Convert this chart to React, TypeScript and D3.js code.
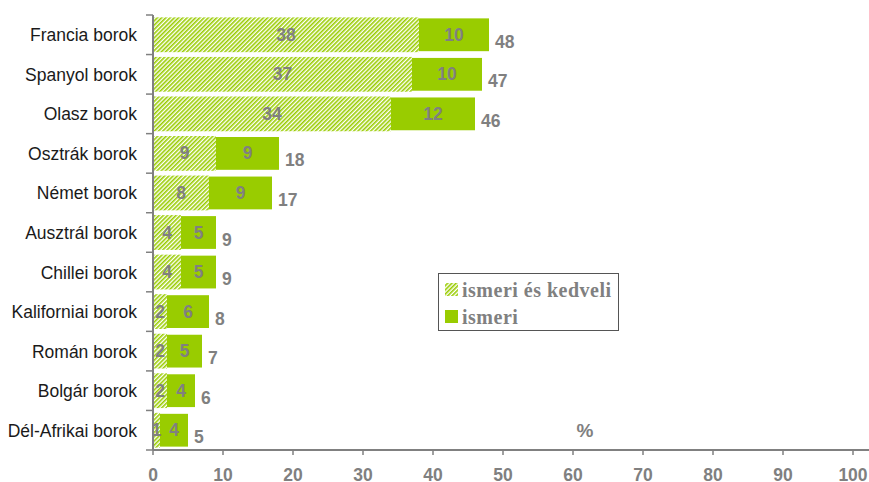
import React from "react";
import * as d3 from "d3";

const categories = [
  "Francia borok",
  "Spanyol borok",
  "Olasz borok",
  "Osztrák borok",
  "Német borok",
  "Ausztrál borok",
  "Chillei borok",
  "Kaliforniai borok",
  "Román borok",
  "Bolgár borok",
  "Dél-Afrikai borok",
];
const ismeriEsKedveli = [38, 37, 34, 9, 8, 4, 4, 2, 2, 2, 1];
const ismeri = [10, 10, 12, 9, 9, 5, 5, 6, 5, 4, 4];
const totals = [48, 47, 46, 18, 17, 9, 9, 8, 7, 6, 5];
const xTicks = [0, 10, 20, 30, 40, 50, 60, 70, 80, 90, 100];
const legendLabels = ["ismeri és kedveli", "ismeri"];

const W = 869;
const H = 482;
const GREEN = "#99CC00";
const GREY = "#808080";
const AXIS = "#808080";

export default function App() {
  const x = d3.scaleLinear().domain([0, 100]).range([153, 853]);
  const y = d3.scaleBand<string>().domain(categories).range([15, 450]).paddingInner(0.12).paddingOuter(0.06);
  const bw = y.bandwidth();
  const boundaries = d3.range(categories.length + 1).map((i) => 15 + (i * (450 - 15)) / categories.length);
  const font = "Arial, 'Liberation Sans', sans-serif";
  const serif = "'Liberation Serif', 'Times New Roman', serif";
  const fs = 17.5;

  return (
    <svg width={W} height={H} style={{ position: "absolute", left: 0, top: 0, background: "#fff" }}>
      <defs>
        <pattern id="hatch" width={3} height={3} patternUnits="userSpaceOnUse" patternTransform="rotate(45)">
          <rect x={0} y={0} width={3} height={3} fill="#fff" />
          <rect x={0} y={0} width={1.6} height={3} fill={GREEN} />
        </pattern>
      </defs>
      {categories.map((c, i) => {
        const y0 = y(c)!;
        const cy = y0 + bw / 2;
        const a = ismeriEsKedveli[i];
        const b = ismeri[i];
        return (
          <g key={c}>
            <rect x={x(0)} y={y0} width={x(a) - x(0)} height={bw} fill="url(#hatch)" />
            <rect x={x(a)} y={y0 + 1} width={x(a + b) - x(a)} height={bw - 2} fill={GREEN} />
            <text x={(x(0) + x(a)) / 2} y={cy + 6} textAnchor="middle" fontFamily={font} fontWeight="bold" fontSize={fs} fill={GREY}>
              {a}
            </text>
            <text x={(x(a) + x(a + b)) / 2} y={cy + 6} textAnchor="middle" fontFamily={font} fontWeight="bold" fontSize={fs} fill={GREY}>
              {b}
            </text>
            <text x={x(totals[i]) + 6} y={cy + 13} textAnchor="start" fontFamily={font} fontWeight="bold" fontSize={fs} fill={GREY}>
              {totals[i]}
            </text>
            <text x={137} y={cy + 6.5} textAnchor="end" fontFamily={font} fontSize={fs} fill="#1a1a1a">
              {c}
            </text>
          </g>
        );
      })}
      {/* y axis */}
      <line x1={x(0)} x2={x(0)} y1={15} y2={450} stroke={AXIS} strokeWidth={2} />
      {boundaries.map((b, i) => (
        <line key={i} x1={146} x2={x(0)} y1={b} y2={b} stroke={AXIS} strokeWidth={1.5} />
      ))}
      {/* x axis */}
      <line x1={x(0)} x2={W} y1={450} y2={450} stroke={AXIS} strokeWidth={2} />
      {xTicks.map((t) => (
        <g key={t}>
          <line x1={x(t)} x2={x(t)} y1={450} y2={455} stroke={AXIS} strokeWidth={1.5} />
          <text x={x(t)} y={481} textAnchor="middle" fontFamily={font} fontWeight="bold" fontSize={fs} fill={GREY}>
            {t}
          </text>
        </g>
      ))}
      <text x={585} y={437} textAnchor="middle" fontFamily={font} fontWeight="bold" fontSize={19} fill={GREY}>
        %
      </text>
      {/* legend */}
      <rect x={438.5} y={273.5} width={180} height={57} fill="#fff" stroke="#555" strokeWidth={1} />
      <rect x={445} y={283} width={13} height={13} fill="url(#hatch)" />
      <rect x={445} y={310} width={13} height={13} fill={GREEN} />
      <text x={462} y={297} fontFamily={serif} fontWeight="bold" fontSize={20} letterSpacing={0.5} fill={GREY}>
        {legendLabels[0]}
      </text>
      <text x={462} y={324} fontFamily={serif} fontWeight="bold" fontSize={20} letterSpacing={0.5} fill={GREY}>
        {legendLabels[1]}
      </text>
    </svg>
  );
}
